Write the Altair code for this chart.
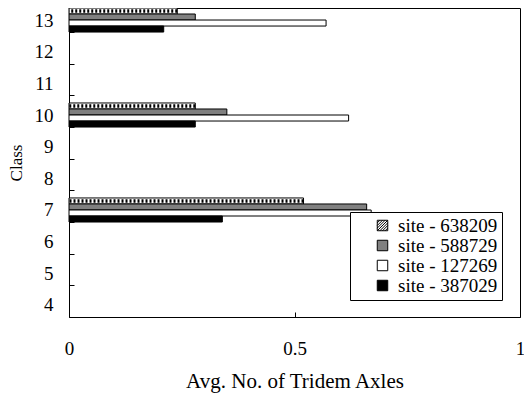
import altair as alt
import pandas as pd

classes = [13, 10, 7]
all_classes = [13, 12, 11, 10, 9, 8, 7, 6, 5, 4]
sites = ["site - 638209", "site - 588729", "site - 127269", "site - 387029"]
site_638209 = [0.24, 0.28, 0.52]
site_588729 = [0.28, 0.35, 0.66]
site_127269 = [0.57, 0.62, 0.67]
site_387029 = [0.21, 0.28, 0.34]
x_ticks = [0, 0.5, 1]

series = [site_638209, site_588729, site_127269, site_387029]
rows = []
for s, vals in zip(sites, series):
    for c, v in zip(classes, vals):
        rows.append({"cls": c, "site": s, "value": v})
df = pd.DataFrame(rows)

fills = ["white", "#808080", "white", "black"]
strokes = ["black", "black", "black", "black"]
hatch_path = ("M-1,-1H1V1H-1Z M-1,0L0,-1 M-1,1L1,-1 M0,1L1,0 "
              "M-1,-0.5L-0.5,-1 M-1,0.5L0.5,-1 M-0.5,1L1,-0.5 M0.5,1L1,0.5")
shapes = [hatch_path, "square", "square", "square"]

W, H = 451, 309
FONT = "Liberation Serif"

y_scale = alt.Scale(domain=all_classes, paddingInner=0.24, paddingOuter=0)
x_scale = alt.Scale(domain=[0, 1], nice=False)

y_main = alt.Y("cls:O", scale=y_scale,
               axis=alt.Axis(title="Class", ticks=False, domain=False, labelPadding=16,
                             titlePadding=9, labelFontSize=19, titleFontSize=17,
                             labelFont=FONT, titleFont=FONT, titleFontWeight="normal",
                             labelColor="black", titleColor="black",
                             grid=True, tickBand="extent", gridColor="black",
                             gridDash=[5, 2000], gridWidth=1, gridOpacity=1))
x_main = alt.X("value:Q", scale=x_scale,
               axis=alt.Axis(title="Avg. No. of Tridem Axles", values=x_ticks, ticks=False,
                             domain=False, labelPadding=22, titlePadding=12,
                             labelFontSize=19, titleFontSize=21, labelFont=FONT, titleFont=FONT,
                             titleFontWeight="normal", labelColor="black", titleColor="black",
                             format="~g", labelFlush=False,
                             grid=True, gridColor="black", gridDash=[5, 2000], gridWidth=1,
                             gridOpacity=1))
yoff = alt.YOffset("site:N", sort=sites, scale=alt.Scale(domain=sites, paddingInner=0, paddingOuter=0))
leg = alt.Legend(title=None, symbolStrokeColor="black", symbolStrokeWidth=1, symbolOpacity=1)
fill_enc = alt.Fill("site:N", scale=alt.Scale(domain=sites, range=fills), legend=leg)
shape_enc = alt.Shape("site:N", scale=alt.Scale(domain=sites, range=shapes), legend=leg)
stroke_enc = alt.Stroke("site:N", scale=alt.Scale(domain=sites, range=strokes), legend=leg)

base = alt.Chart(df)

bars = base.mark_bar(stroke="black", strokeWidth=1).encode(
    x=x_main,
    x2=alt.datum(0),
    y=y_main,
    yOffset=yoff,
    fill=fill_enc,
)

hatch = base.transform_filter(alt.datum.site == sites[0]).mark_rule(
    color="black", strokeWidth=3.5, strokeDash=[2, 2]
).encode(
    x=alt.X("value:Q", scale=x_scale),
    x2=alt.datum(0),
    y=alt.Y("cls:O", scale=y_scale),
    yOffset=yoff,
)

legend_pts = base.mark_point(filled=True, strokeWidth=1, opacity=0).encode(
    x=alt.X("value:Q", scale=x_scale),
    y=alt.Y("cls:O", scale=y_scale),
    yOffset=yoff,
    fill=fill_enc,
    shape=shape_enc,
    stroke=stroke_enc,
)

chart = alt.layer(bars, hatch, legend_pts).properties(
    width=W, height=H,
    autosize=alt.AutoSizeParams(type="none"),
    padding={"top": 0, "left": 61, "right": 4, "bottom": 76},
).configure_view(
    stroke="black", strokeWidth=1
).configure_legend(
    orient="none", legendX=281, legendY=204, strokeColor="black", fillColor="white",
    padding=4, symbolOffset=19, labelFont=FONT, labelFontSize=19, labelColor="black",
    symbolSize=110, rowPadding=0, labelOffset=6, cornerRadius=0
)

chart.save("out.html", embed_options={"renderer": "svg", "actions": False})
